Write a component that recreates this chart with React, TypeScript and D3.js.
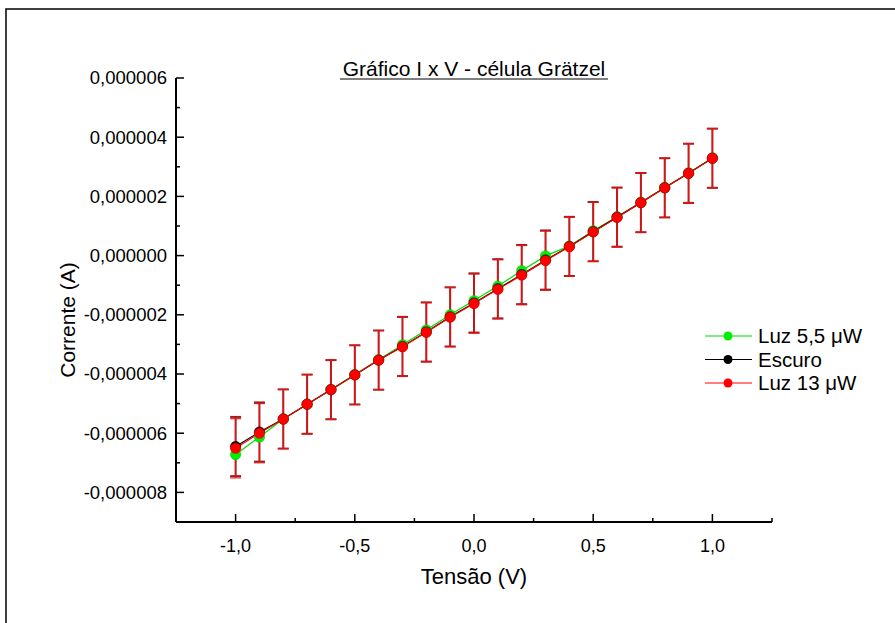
import * as d3 from "d3";

// tensão (V)
const voltage = [-1.0, -0.9, -0.8, -0.7, -0.6, -0.5, -0.4, -0.3, -0.2, -0.1, 0.0, 0.1, 0.2, 0.3, 0.4, 0.5, 0.6, 0.7, 0.8, 0.9, 1.0];

// corrente (A)
const luz55 = [-6.72e-6, -6.13e-6, -5.52e-6, -5.02e-6, -4.52e-6, -4.02e-6, -3.52e-6, -3.01e-6, -2.51e-6, -2.0e-6, -1.52e-6, -1.03e-6, -0.51e-6, -0.01e-6, 0.32e-6, 0.84e-6, 1.31e-6, 1.8e-6, 2.3e-6, 2.79e-6, 3.3e-6];
const escuro = [-6.45e-6, -5.96e-6, -5.52e-6, -5.02e-6, -4.53e-6, -4.03e-6, -3.53e-6, -3.07e-6, -2.58e-6, -2.07e-6, -1.6e-6, -1.12e-6, -0.64e-6, -0.15e-6, 0.31e-6, 0.81e-6, 1.3e-6, 1.79e-6, 2.29e-6, 2.78e-6, 3.29e-6];
const luz13 = [-6.51e-6, -6.0e-6, -5.52e-6, -5.02e-6, -4.53e-6, -4.03e-6, -3.53e-6, -3.08e-6, -2.59e-6, -2.08e-6, -1.62e-6, -1.14e-6, -0.66e-6, -0.17e-6, 0.3e-6, 0.8e-6, 1.29e-6, 1.79e-6, 2.29e-6, 2.78e-6, 3.29e-6];

// erro (A)
const escuroErr = [1e-6, 1e-6, 1e-6, 1e-6, 1e-6, 1e-6, 1e-6, 1e-6, 1e-6, 1e-6, 1e-6, 1e-6, 1e-6, 1e-6, 1e-6, 1e-6, 1e-6, 1e-6, 1e-6, 1e-6, 1e-6];
const luz13Err = [1e-6, 1e-6, 1e-6, 1e-6, 1e-6, 1e-6, 1e-6, 1e-6, 1e-6, 1e-6, 1e-6, 1e-6, 1e-6, 1e-6, 1e-6, 1e-6, 1e-6, 1e-6, 1e-6, 1e-6, 1e-6];

const xMajor = [-1.0, -0.5, 0.0, 0.5, 1.0];
const xMinor = [-1.25, -0.75, -0.25, 0.25, 0.75, 1.25];
const yMajor = [-8e-6, -6e-6, -4e-6, -2e-6, 0, 2e-6, 4e-6, 6e-6];
const yMinor = [-9e-6, -7e-6, -5e-6, -3e-6, -1e-6, 1e-6, 3e-6, 5e-6];

const legendNames = ["Luz 5,5 ", "Escuro", "Luz 13 "];

const W = 895;
const H = 623;
const font = "'Liberation Sans', Arial, sans-serif";

const locale = d3.formatLocale({ decimal: ",", thousands: ".", grouping: [3], currency: ["", ""], minus: "-" });
const fmtY = locale.format(".6f");
const fmtX = locale.format(".1f");

export default function App() {
  const x = d3.scaleLinear().domain([-1.25, 1.25]).range([176, 772]);
  const y = d3.scaleLinear().domain([-9e-6, 6e-6]).range([522, 78]);

  const line = d3.line<number>().x((_, i) => x(voltage[i])).y((d) => y(d));

  const series = [
    { name: legendNames[0], values: luz55, line: "#00e000", fill: "#00f000", stroke: "#00c000" },
    { name: legendNames[1], values: escuro, line: "#000000", fill: "#000000", stroke: "#000000" },
    { name: legendNames[2], values: luz13, line: "#ff0000", fill: "#ff0000", stroke: "#e00000" },
  ];

  const errBars = [
    { values: escuro, err: escuroErr, color: "#9a2020", width: 2 },
    { values: luz13, err: luz13Err, color: "#e81010", width: 1.1 },
  ];

  return (
    <svg width={W} height={H} style={{ position: "absolute", left: 0, top: 0, background: "#fff" }} fontFamily={font}>
      <rect x={6} y={9} width={W} height={H} fill="none" stroke="#000" strokeWidth={1.5} />

      <text x={474} y={76} textAnchor="middle" fontSize={21}>Gráfico I x V - célula Grätzel</text>
      <line x1={340} x2={608} y1={79} y2={79} stroke="#000" strokeWidth={1} />

      {/* axes */}
      <line x1={176} x2={176} y1={78} y2={522} stroke="#000" strokeWidth={2} />
      <line x1={176} x2={772} y1={522} y2={522} stroke="#000" strokeWidth={2} />
      {yMajor.map((v) => (
        <g key={"ym" + v}>
          <line x1={176} x2={184} y1={y(v)} y2={y(v)} stroke="#000" strokeWidth={1.5} />
          <text x={167} y={y(v)} dy="0.35em" textAnchor="end" fontSize={18.5}>{fmtY(v)}</text>
        </g>
      ))}
      {yMinor.map((v) => (
        <line key={"yn" + v} x1={176} x2={180} y1={y(v)} y2={y(v)} stroke="#000" strokeWidth={1.5} />
      ))}
      {xMajor.map((v) => (
        <g key={"xm" + v}>
          <line x1={x(v)} x2={x(v)} y1={522} y2={514} stroke="#000" strokeWidth={1.5} />
          <text x={x(v)} y={552} textAnchor="middle" fontSize={18}>{fmtX(v)}</text>
        </g>
      ))}
      {xMinor.map((v) => (
        <line key={"xn" + v} x1={x(v)} x2={x(v)} y1={522} y2={518} stroke="#000" strokeWidth={1.5} />
      ))}

      <text x={474} y={584} textAnchor="middle" fontSize={22}>Tensão (V)</text>
      <text transform="translate(75,320) rotate(-90)" textAnchor="middle" fontSize={21}>Corrente (A)</text>

      {/* lines */}
      {series.map((s) => (
        <path key={"l" + s.name} d={line(s.values) ?? ""} fill="none" stroke={s.line} strokeWidth={1.2} />
      ))}

      {/* error bars */}
      {errBars.map((e, k) => (
        <g key={"e" + k} stroke={e.color} strokeWidth={e.width}>
          {e.values.map((v, i) => {
            const cx = x(voltage[i]);
            const top = y(v + e.err[i]);
            const bot = y(v - e.err[i]);
            return (
              <g key={i}>
                <line x1={cx} x2={cx} y1={top} y2={bot} />
                <line x1={cx - 5.5} x2={cx + 5.5} y1={top} y2={top} />
                <line x1={cx - 5.5} x2={cx + 5.5} y1={bot} y2={bot} />
              </g>
            );
          })}
        </g>
      ))}

      {/* markers */}
      {series.map((s) => (
        <g key={"m" + s.name}>
          {s.values.map((v, i) => (
            <circle key={i} cx={x(voltage[i])} cy={y(v)} r={5.2} fill={s.fill} stroke={s.stroke} strokeWidth={0.5} />
          ))}
        </g>
      ))}

      {/* legend */}
      {series.map((s, i) => {
        const ly = 336 + i * 23.5;
        return (
          <g key={"lg" + s.name}>
            <line x1={705} x2={752} y1={ly} y2={ly} stroke={s.line} strokeWidth={1.2} />
            <circle cx={728} cy={ly} r={4.5} fill={s.fill} />
            <text x={758} y={ly} dy="0.36em" fontSize={20.5}>
              {s.name}
              {i !== 1 ? <tspan>μW</tspan> : null}
            </text>
          </g>
        );
      })}
    </svg>
  );
}
